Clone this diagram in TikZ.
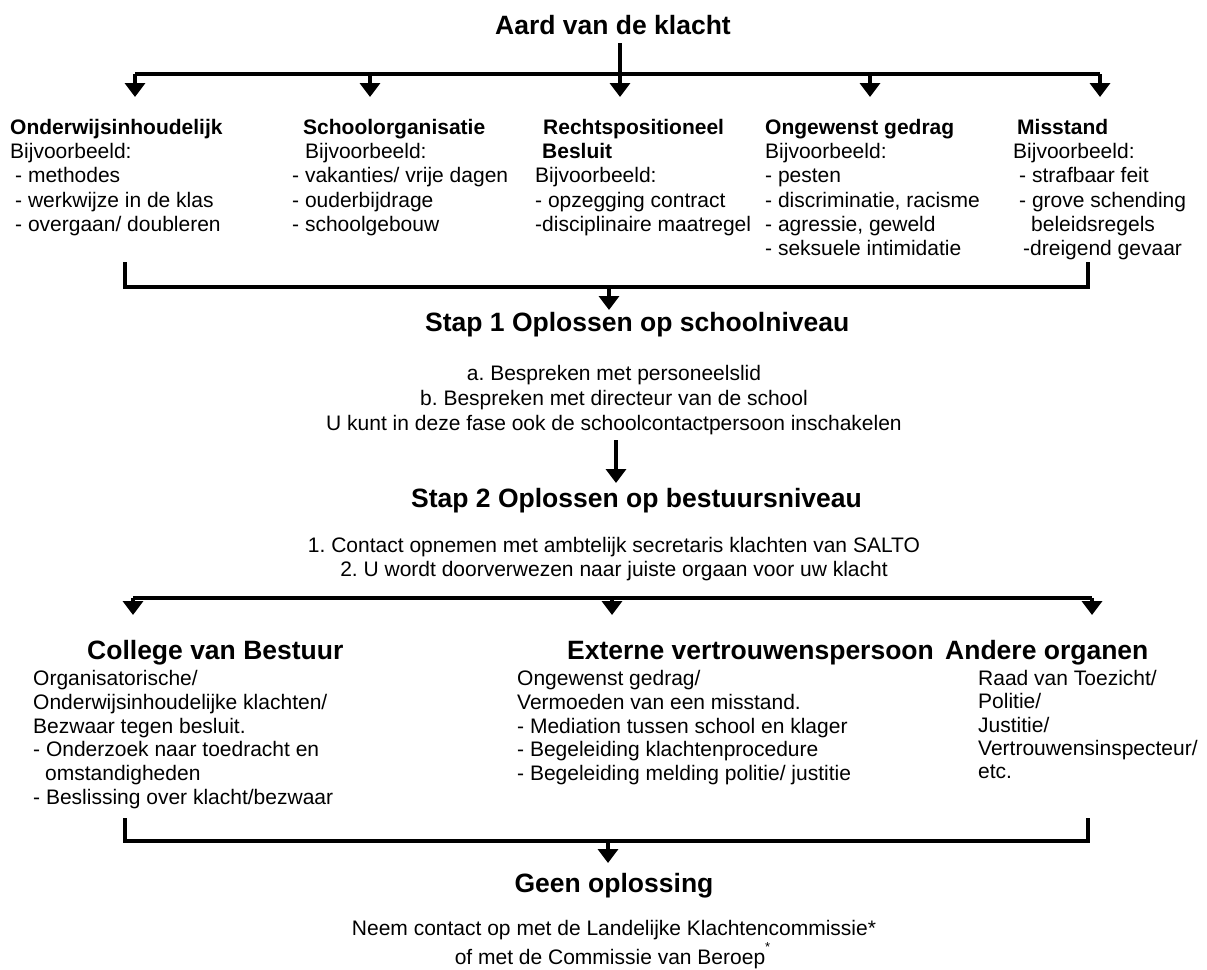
\documentclass[tikz,border=0pt]{standalone}
\usepackage{fontspec}
\setmainfont{Liberation Sans}
\usetikzlibrary{arrows.meta}
\frenchspacing
\newcommand{\lblock}[1]{\begin{tabular}[t]{@{}l@{}}#1\end{tabular}}
\newcommand{\cblock}[1]{\begin{tabular}[t]{@{}c@{}}#1\end{tabular}}
\begin{document}
\begin{tikzpicture}[x=1pt,y=-1pt,
  body/.style={font=\fontsize{21}{24.2}\selectfont, inner sep=0pt, anchor=base west},
  cbody/.style={font=\fontsize{21}{24.2}\selectfont, inner sep=0pt, anchor=base},
  ttl/.style={font=\fontsize{26.5}{30}\selectfont\bfseries, inner sep=0pt, anchor=base west},
  conn/.style={line width=3.5pt, line join=miter},
  arr/.style={line width=3.5pt, -{Triangle[width=20pt,length=14pt]}}]
\useasboundingbox (0,0) rectangle (1207,969);

% ---- top
\node[ttl, anchor=base] (title) at (613,34.5) {Aard van de klacht};
\node[body] (c1) at (10,134.5) {\lblock{\textbf{Onderwijsinhoudelijk}\\Bijvoorbeeld:\\\hspace{5pt}- methodes\\\hspace{5pt}- werkwijze in de klas\\\hspace{5pt}- overgaan/ doubleren}};
\node[body] (c2) at (292,134.5) {\lblock{\hspace{11pt}\textbf{Schoolorganisatie}\\\hspace{13pt}Bijvoorbeeld:\\- vakanties/ vrije dagen\\- ouderbijdrage\\- schoolgebouw}};
\node[body] (c3) at (535,134.5) {\lblock{\hspace{8pt}\textbf{Rechtspositioneel}\\\hspace{7pt}\textbf{Besluit}\\Bijvoorbeeld:\\- opzegging contract\\-disciplinaire maatregel}};
\node[body] (c4) at (765,134.5) {\lblock{\textbf{Ongewenst gedrag}\\Bijvoorbeeld:\\- pesten\\- discriminatie, racisme\\- agressie, geweld\\- seksuele intimidatie}};
\node[body] (c5) at (1013,134.5) {\lblock{\hspace{4pt}\textbf{Misstand}\\Bijvoorbeeld:\\\hspace{6pt}- strafbaar feit\\\hspace{6pt}- grove schending\\\hspace{18pt}beleidsregels\\\hspace{10pt}-dreigend gevaar}};

\coordinate (hL) at (135,74);
\coordinate (hR) at (1100,74);
\coordinate (t1) at (135,97);
\coordinate (t2) at (370,97);
\coordinate (t3) at (620,97);
\coordinate (t4) at (870,97);
\coordinate (t5) at (1100,97);
\draw[conn] (hL) -- (hR);
\draw[arr] (t3 |- 0,43) -- (t3);
\foreach \t in {t1,t2,t4,t5} \draw[arr] (\t |- hL) -- (\t);

% ---- bracket 1 and Stap 1
\coordinate (b1l) at (125,262);
\coordinate (b1r) at (1088,262);
\draw[conn] (b1l) -- (125,287) -- (1088,287) -- (b1r);
\coordinate (j1) at (609,287);
\coordinate (s1tip) at (609,310);
\draw[arr] (j1) -- (s1tip);

\node[ttl] (s1) at (425,331.5) {Stap 1 Oplossen op schoolniveau};
\node[cbody, font=\fontsize{21}{25}\selectfont] (s1t) at (614,380.5) {\cblock{a. Bespreken met personeelslid\\b. Bespreken met directeur van de school\\U kunt in deze fase ook de schoolcontactpersoon inschakelen}};
\coordinate (a2s) at (616,440);
\coordinate (a2t) at (616,483);
\draw[arr] (a2s) -- (a2t);

% ---- Stap 2
\node[ttl] (s2) at (411,507.5) {Stap 2 Oplossen op bestuursniveau};
\node[cbody, font=\fontsize{21}{24}\selectfont] (s2t) at (614,552.5) {\cblock{1. Contact opnemen met ambtelijk secretaris klachten van SALTO\\2. U wordt doorverwezen naar juiste orgaan voor uw klacht}};

\coordinate (h2L) at (133,598);
\coordinate (h2R) at (1092,598);
\coordinate (u1) at (133,615);
\coordinate (u2) at (612,615);
\coordinate (u3) at (1092,615);
\draw[conn] (h2L) -- (h2R);
\foreach \t in {u1,u2,u3} \draw[arr] (\t |- h2L) -- (\t);

% ---- level 2 columns
\node[ttl] (cvb) at (87,659.5) {College van Bestuur};
\node[ttl] (evp) at (567,659.5) {Externe vertrouwenspersoon};
\node[ttl] (ao) at (945,659.5) {Andere organen};
\node[body, font=\fontsize{21}{23.8}\selectfont] (cvbt) at (33,685.5) {\lblock{Organisatorische/\\Onderwijsinhoudelijke klachten/\\Bezwaar tegen besluit.\\- Onderzoek naar toedracht en\\\hspace{12pt}omstandigheden\\- Beslissing over klacht/bezwaar}};
\node[body, font=\fontsize{21}{23.8}\selectfont] (evpt) at (517,685.5) {\lblock{Ongewenst gedrag/\\Vermoeden van een misstand.\\- Mediation tussen school en klager\\- Begeleiding klachtenprocedure\\- Begeleiding melding politie/ justitie}};
\node[body, font=\fontsize{21}{23.3}\selectfont] (aot) at (978,685.5) {\lblock{Raad van Toezicht/\\Politie/\\Justitie/\\Vertrouwensinspecteur/\\etc.}};

% ---- bracket 3 and Geen oplossing
\coordinate (b3l) at (125,818);
\coordinate (b3r) at (1088,818);
\draw[conn] (b3l) -- (125,841) -- (1088,841) -- (b3r);
\coordinate (j3) at (608,841);
\coordinate (g3tip) at (608,863);
\draw[arr] (j3) -- (g3tip);

\node[ttl, anchor=base] (geen) at (614,892.5) {Geen oplossing};
\node[cbody] (n1) at (614,935.5) {Neem contact op met de Landelijke Klachtencommissie*};
\node[cbody] (n2) at (610,964.5) {of met de Commissie van Beroep\rlap{\raisebox{13.5pt}{\fontsize{13}{13}\selectfont *}}};
\end{tikzpicture}
\end{document}
